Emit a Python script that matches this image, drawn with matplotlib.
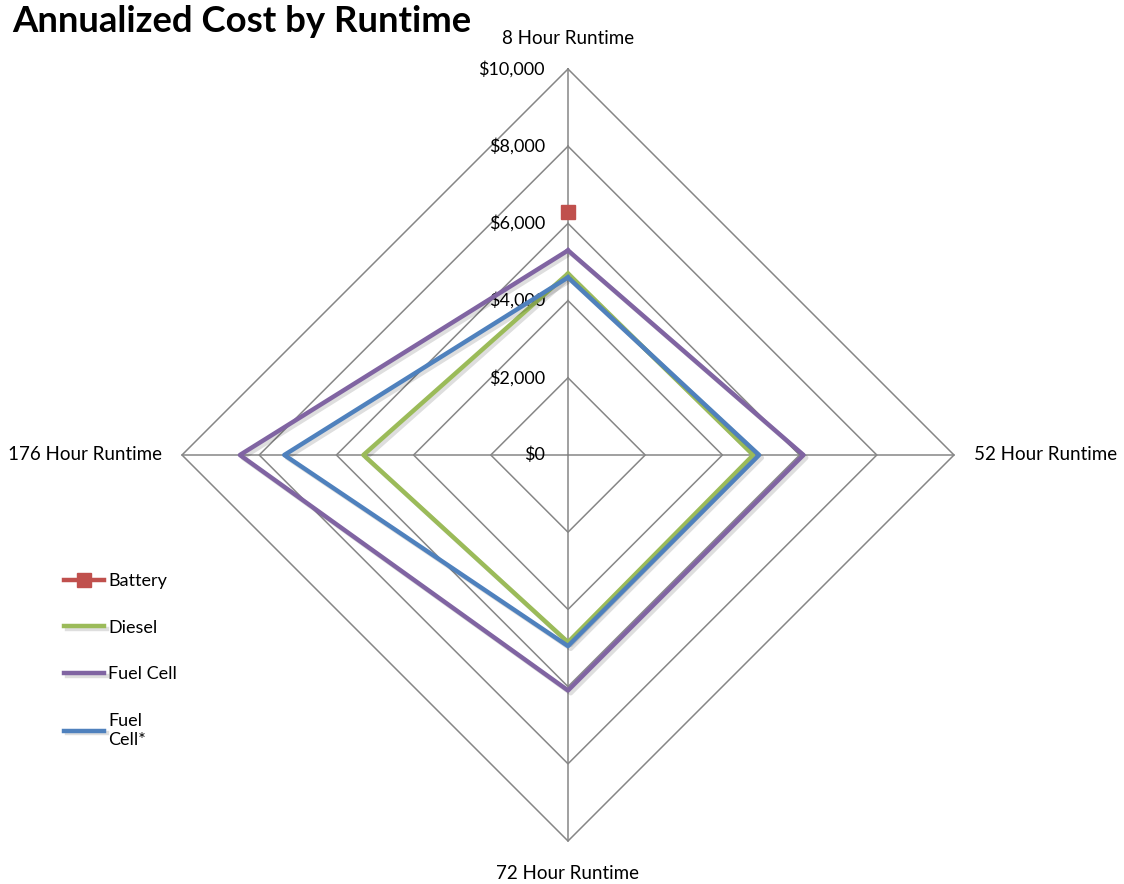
import matplotlib.pyplot as plt
import matplotlib.patheffects as pe
import numpy as np

categories = ['8 Hour Runtime', '52 Hour Runtime', '72 Hour Runtime', '176 Hour Runtime']
battery = [6300, np.nan, np.nan, np.nan]
diesel = [4700, 4800, 4850, 5300]
fuel_cell = [5300, 6100, 6100, 8500]
fuel_cell_star = [4600, 4950, 4950, 7350]
ticks = [0, 2000, 4000, 6000, 8000, 10000]
tick_labels = ['$0', '$2,000', '$4,000', '$6,000', '$8,000', '$10,000']

plt.rcParams['font.family'] = ['Lato', 'DejaVu Sans']

# angles: top, right, bottom, left (clockwise from top)
angles = np.pi / 2 - np.arange(len(categories)) * np.pi / 2

def to_xy(vals):
    v = np.asarray(vals, dtype=float)
    return v * np.cos(angles), v * np.sin(angles)

W, H = 1124, 884
cx, cy, rad = 568, 455, 386
fig = plt.figure(figsize=(W / 100, H / 100), dpi=100)
ax = fig.add_axes([0, 0, 1, 1])
scale = 10000 / rad
ax.set_xlim(-cx * scale, (W - cx) * scale)
ax.set_ylim(-(H - cy) * scale, cy * scale)
ax.axis('off')

grid_col = '#868686'
# polygon gridlines
for t in ticks[1:]:
    x, y = to_xy([t] * 4)
    ax.plot(np.append(x, x[0]), np.append(y, y[0]), color=grid_col, lw=1.1, zorder=1)
# spokes
for a in angles:
    ax.plot([0, 10000 * np.cos(a)], [0, 10000 * np.sin(a)], color=grid_col, lw=1.1, zorder=1)

# tick labels
for t, lab in zip(ticks, tick_labels):
    ax.text(-600, t, lab, ha='right', va='center', fontsize=13, color='black')

# category labels
fs = 13.5
ax.text(0, 10000 + 780, categories[0], ha='center', va='center', fontsize=fs)
ax.text(10000 + 520, 0, categories[1], ha='left', va='center', fontsize=fs)
ax.text(0, -10000 - 830, categories[2], ha='center', va='center', fontsize=fs)
ax.text(-10000 - 520, 0, categories[3], ha='right', va='center', fontsize=fs)

shadow = [pe.SimpleLineShadow(offset=(2, -2), alpha=0.13, shadow_color='black'), pe.Normal()]

series = [
    ('Battery', battery, '#C0504D'),
    ('Diesel', diesel, '#9BBB59'),
    ('Fuel Cell', fuel_cell, '#8064A2'),
    ('Fuel\nCell*', fuel_cell_star, '#4F81BD'),
]
handles = []
for name, vals, col in series:
    x, y = to_xy(vals)
    if name == 'Battery':
        h, = ax.plot(x, y, color=col, lw=3.2, marker='s', markersize=10,
                     label=name, zorder=4)
    else:
        h, = ax.plot(np.append(x, x[0]), np.append(y, y[0]), color=col, lw=3.2,
                     label=name, zorder=3, path_effects=shadow)
    handles.append(h)

leg = ax.legend(handles=handles, loc='upper left', bbox_to_anchor=(64 / W, 1 - 573 / H),
                frameon=False, fontsize=13, labelspacing=1.7, handlelength=2.2,
                handletextpad=0.25, borderpad=0, borderaxespad=0)

fig.text(12 / W, 1 - 22 / H, 'Annualized Cost by Runtime', ha='left', va='center',
         fontsize=26.3, fontweight='bold', fontfamily=['Lato', 'DejaVu Sans'])

fig.savefig('out.png', dpi=100)
